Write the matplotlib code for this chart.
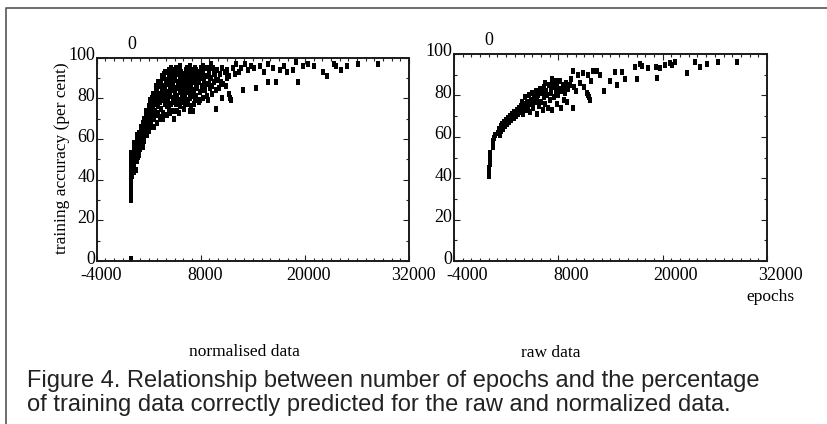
import matplotlib
matplotlib.use("Agg")
import matplotlib.pyplot as plt
from matplotlib.lines import Line2D
from matplotlib.ticker import MultipleLocator, FixedLocator
import matplotlib.transforms as mtransforms

# epochs vs training accuracy, normalised inputs
norm_points = [
    (0, 1), (0, 30), (0, 32), (0, 34), (0, 36), (0, 38), (0, 40), (0, 42), (0, 44), (0, 46), (0, 48), (0, 50), (0, 53),
    (100, 42), (150, 46), (200, 49), (250, 44), (250, 52), (300, 55), (350, 47), (400, 50), (450, 58), (500, 45),
    (500, 53), (550, 56), (600, 49), (650, 60), (700, 54), (700, 58), (750, 51), (800, 61), (850, 56), (900, 63),
    (900, 59), (950, 55), (1000, 61),
    (1050, 64), (1100, 58), (1150, 62), (1200, 66), (1250, 60), (1300, 64), (1350, 68), (1400, 62), (1450, 66),
    (1500, 70), (1550, 64), (1600, 68), (1650, 72), (1700, 66), (1750, 70), (1800, 74), (1850, 65), (1900, 69),
    (1950, 72), (2000, 76),
    (2050, 67), (2100, 71), (2150, 74), (2200, 78), (2250, 69), (2300, 73), (2350, 76), (2400, 80), (2450, 71),
    (2500, 75), (2550, 78), (2600, 82), (2650, 70), (2700, 74), (2750, 77), (2800, 81), (2850, 84), (2900, 72),
    (2950, 79), (3000, 83),
    (3050, 73), (3100, 76), (3150, 80), (3200, 86), (3250, 71), (3300, 78), (3350, 82), (3400, 88), (3450, 75),
    (3500, 84), (3550, 79), (3600, 90), (3650, 73), (3700, 86), (3750, 81), (3800, 92), (3850, 77), (3900, 84),
    (3950, 89), (4000, 80),
    (4050, 72), (4100, 87), (4150, 93), (4200, 78), (4250, 83), (4300, 90), (4350, 75), (4400, 86), (4450, 81),
    (4500, 93), (4550, 77), (4600, 88), (4650, 84), (4700, 91), (4750, 74), (4800, 86), (4850, 80), (4900, 94),
    (4950, 70), (5000, 83),
    (5050, 89), (5100, 77), (5150, 92), (5200, 85), (5250, 81), (5300, 74), (5350, 88), (5400, 94), (5450, 79),
    (5500, 86), (5550, 91), (5600, 83), (5600, 96), (5650, 76), (5700, 89), (5750, 93), (5800, 81), (5850, 87),
    (5900, 78), (5950, 92), (6000, 85),
    (6050, 75), (6100, 90), (6150, 82), (6200, 88), (6250, 94), (6300, 79), (6350, 86), (6400, 92), (6450, 83),
    (6500, 77), (6550, 89), (6600, 84), (6650, 93), (6700, 80), (6750, 87), (6800, 91), (6800, 96), (6850, 76),
    (6900, 85), (6950, 94), (7000, 82),
    (7100, 74), (7150, 89), (7200, 92), (7250, 84), (7300, 79), (7400, 94), (7450, 87), (7500, 81), (7550, 90),
    (7600, 85), (7700, 93), (7750, 78), (7800, 88), (7900, 83), (8000, 95), (8050, 90), (8100, 86), (8200, 80),
    (8300, 93), (8300, 96), (8400, 88), (8500, 84), (8600, 95), (8700, 91), (8800, 79), (8900, 87), (9000, 93),
    (9100, 85), (9200, 90), (9200, 97), (9300, 82), (9400, 95), (9500, 88), (9600, 92), (9700, 75), (9750, 84),
    (9900, 94), (10000, 89),
    (300, 58), (600, 62), (900, 52), (1100, 66), (1300, 56), (1500, 59), (1700, 74), (1800, 62), (2000, 64),
    (2100, 79), (2300, 66), (2500, 82), (2600, 66), (2800, 86), (3000, 68), (3100, 88), (3300, 70), (3500, 91),
    (3700, 70), (3900, 93), (4100, 76), (4300, 94), (4500, 73), (4600, 95), (4800, 78), (5000, 90), (5100, 95),
    (5300, 80), (5500, 73), (5700, 84), (5900, 88), (6100, 86), (6200, 77), (6400, 95), (6600, 90), (6700, 74),
    (6900, 81), (7000, 88), (7200, 77), (7300, 95), (7500, 85), (7700, 90), (7900, 79), (8100, 93), (8200, 84),
    (8400, 91), (8600, 87), (8700, 81), (8900, 95), (9100, 90), (9300, 86), (9500, 93), (9800, 89), (10100, 85),
    (10300, 88), (10500, 80), (10900, 86), (11200, 91),
    (10200, 92), (10400, 95), (10600, 87), (10800, 93), (11000, 90), (11000, 94), (11300, 82), (11400, 80),
    (11500, 79), (11700, 95), (11900, 92), (12100, 97), (12400, 93), (12600, 95), (12900, 84), (13100, 97),
    (13400, 94), (13800, 96), (14100, 95), (14400, 85), (14800, 96), (15300, 93), (15700, 97), (15800, 88),
    (16300, 95), (16700, 88), (17100, 94), (17600, 96), (17900, 93), (18600, 94), (19000, 98), (19200, 88),
    (19800, 96), (20400, 97), (21100, 96), (22100, 93), (22500, 91), (23400, 97), (23600, 96), (24200, 94),
    (24800, 96), (26100, 97), (28400, 97),
]

# epochs vs training accuracy, raw inputs
raw_points = [
    (0, 41), (0, 42), (0, 43), (0, 44), (0, 45), (100, 47), (100, 48), (100, 49.5), (100, 51), (100, 52),
    (500, 55), (500, 56.5), (500, 58), (600, 59.5), (700, 61),
    (1050, 62), (1150, 64), (1250, 61), (1350, 65), (1450, 63), (1550, 66), (1650, 64), (1750, 67), (1900, 65),
    (2000, 68),
    (2100, 66), (2200, 69), (2350, 67), (2450, 70), (2600, 68), (2700, 71), (2850, 69), (2950, 72), (3100, 70),
    (3200, 73), (3350, 71), (3500, 74),
    (3600, 72), (3700, 75), (3800, 77), (3900, 71), (4000, 74), (4100, 76), (4200, 79), (4300, 73), (4400, 77),
    (4500, 75), (4600, 80), (4700, 72), (4800, 78), (4900, 76), (5000, 81), (5100, 74), (5200, 79), (5300, 77),
    (5400, 82), (5500, 71),
    (5600, 78), (5700, 80), (5800, 75), (5900, 83), (6000, 77), (6100, 81), (6200, 73), (6300, 79), (6400, 84),
    (6500, 76), (6500, 86), (6600, 82), (6700, 80), (6800, 74), (6900, 85), (7000, 78), (7100, 83), (7200, 81),
    (7300, 73), (7300, 88), (7400, 86), (7500, 79), (7600, 84), (7700, 82), (7700, 87), (7800, 76), (7900, 85),
    (8000, 80), (8100, 83), (8200, 87), (8300, 74), (8400, 82), (8500, 85), (8600, 78), (8700, 84), (8800, 81),
    (8900, 86), (9000, 77), (9100, 83), (9300, 85), (9500, 88), (9700, 92), (9700, 74), (9800, 84), (10000, 82),
    (10300, 90), (10500, 86), (10800, 91), (11000, 84), (11300, 81), (11400, 80), (11500, 79), (11600, 78),
    (11400, 90), (11800, 87), (12000, 92),
    (12400, 92), (12800, 90), (13200, 82), (13900, 87), (14500, 91.5), (14700, 85), (15300, 91.4), (15700, 88),
    (16800, 93.9), (17000, 88), (17400, 95.2), (17600, 94), (18300, 93.4), (19200, 93.9), (19300, 88.4),
    (19700, 93.4), (20300, 94.7), (20800, 95.6), (21100, 94.5), (21400, 96.3), (22800, 90.8), (23700, 96.3),
    (24300, 93.5), (25100, 95.2), (26400, 96.3), (28500, 96.3),
]

x_ticks = [-4000, 8000, 20000, 32000]
y_ticks = [0, 20, 40, 60, 80, 100]

serif = "Liberation Serif"
tick_size = 13
fig = plt.figure(figsize=(8.28, 4.24), dpi=100)

# little upright block, like the printed points
dot = [(-0.6, -1.0), (0.6, -1.0), (0.6, 1.0), (-0.6, 1.0)]


def draw_panel(ax, points, xlab_shift):
    xs = [p[0] for p in points]
    ys = [p[1] for p in points]
    ax.plot(xs, ys, linestyle="none", marker=dot, markersize=4.1,
            color="black", markeredgewidth=0)
    ax.set_xlim(-4000, 32000)
    ax.set_ylim(0, 100)
    ax.xaxis.set_major_locator(FixedLocator(x_ticks))
    ax.yaxis.set_major_locator(FixedLocator(y_ticks))
    ax.xaxis.set_minor_locator(MultipleLocator(1000))
    ax.yaxis.set_minor_locator(MultipleLocator(10))
    ax.set_xticklabels([str(v) for v in x_ticks], fontfamily=serif, fontsize=tick_size)
    ax.set_yticklabels([str(v) for v in y_ticks], fontfamily=serif, fontsize=tick_size)
    ax.tick_params(which="both", direction="in", top=True, right=True,
                   width=0.8, color="#222222")
    ax.tick_params(which="major", length=4)
    ax.tick_params(which="minor", length=2)
    ax.tick_params(axis="y", pad=1)
    ax.tick_params(axis="x", pad=4)
    # y labels sit a touch above their ticks, x labels a touch right
    up = mtransforms.ScaledTranslation(0, 4 / 100, fig.dpi_scale_trans)
    for lab in ax.get_yticklabels():
        lab.set_transform(lab.get_transform() + up)
    right = mtransforms.ScaledTranslation(xlab_shift / 100, 0, fig.dpi_scale_trans)
    for lab in ax.get_xticklabels():
        lab.set_transform(lab.get_transform() + right)
    for s in ax.spines.values():
        s.set_linewidth(1.4)
        s.set_color("#1a1a1a")
    # origin label above the frame
    ax.text(0, 1.025, "0", transform=ax.get_xaxis_transform(), ha="center", va="bottom",
            fontfamily=serif, fontsize=tick_size)


ax1 = fig.add_axes([96.7 / 828, 1 - 261 / 424, 312.3 / 828, 203.3 / 424])
draw_panel(ax1, norm_points, 4)

ax2 = fig.add_axes([454 / 828, 1 - 261 / 424, 313 / 828, 207 / 424])
draw_panel(ax2, raw_points, 13)

fig.text(62 / 828, 1 - 158 / 424, "training accuracy (per cent)", rotation=90,
         ha="center", va="center", fontfamily=serif, fontsize=12.5)
fig.text(770 / 828, 1 - 297 / 424, "epochs", ha="center", va="center",
         fontfamily=serif, fontsize=12.5)
fig.text(244 / 828, 1 - 352 / 424, "normalised data", ha="center", va="center",
         fontfamily=serif, fontsize=12.5)
fig.text(551 / 828, 1 - 353 / 424, "raw data", ha="center", va="center",
         fontfamily=serif, fontsize=12.5)

caption_lines = [
    "Figure 4. Relationship between number of epochs and the percentage",
    "of training data correctly predicted for the raw and normalized data.",
]
for i, line in enumerate(caption_lines):
    fig.text(27 / 828, 1 - (381 + 24 * i) / 424, line, ha="left", va="center",
             fontfamily="Liberation Sans", fontsize=17, color="#222222")

# page frame
fig.add_artist(Line2D([6 / 828, 6 / 828, 1], [0, 1 - 8 / 424, 1 - 8 / 424],
                      transform=fig.transFigure, color="#555555", linewidth=1.2))

fig.savefig("out.png", dpi=100)
